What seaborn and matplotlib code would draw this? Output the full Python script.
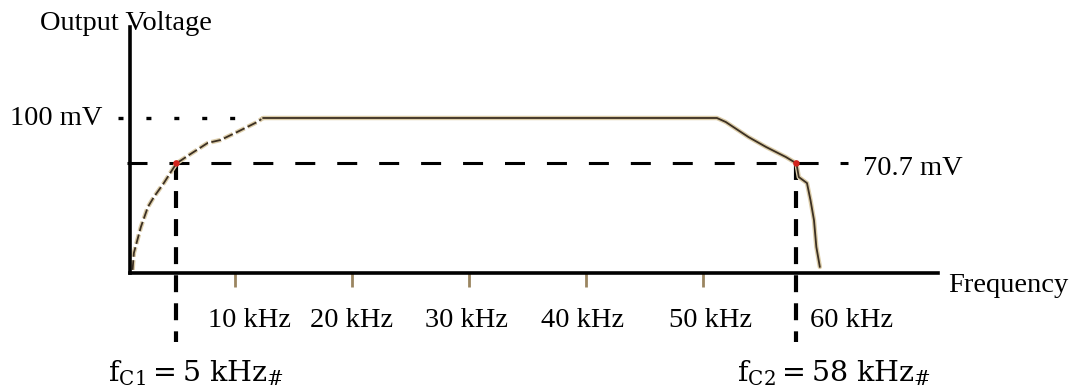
import matplotlib
matplotlib.use("Agg")
import matplotlib.pyplot as plt
import numpy as np
import pandas as pd
import seaborn as sns

# Band-pass response of the amplifier (kHz, mV)
rise_khz = [1.25, 1.36, 1.96, 2.56, 3.07, 3.92, 4.51, 5.0, 6.05, 7.67, 8.77, 10.2, 11.9, 12.4]
rise_mv = [2.0, 12.9, 29.7, 42.6, 49.0, 58.0, 65.0, 70.7, 76.0, 83.9, 85.8, 91.0, 97.4, 100.0]
fall_khz = [12.4, 51.2, 51.96, 53.9, 55.4, 57.1, 58.0, 58.2, 58.9, 59.2, 59.5, 59.7, 60.0]
fall_mv = [100.0, 100.0, 97.4, 87.7, 81.3, 74.8, 70.7, 61.9, 58.0, 47.0, 34.0, 16.8, 3.9]

peak_mv = 100.0
cutoff_mv = 70.7
cutoff_khz = [5, 58]
tick_khz = [10, 20, 30, 40, 50]
tick_labels = ["10 kHz", "20 kHz", "30 kHz", "40 kHz", "50 kHz", "60 kHz"]
label_khz = [10, 20, 30, 40, 50, 60]
label_nudge_px = [15, 0, -2, -3, 8, 32]

sns.set_theme(style="white")
plt.rcParams["font.family"] = ["Liberation Serif", "DejaVu Serif"]
plt.rcParams["mathtext.fontset"] = "dejavuserif"
plt.rcParams["lines.scale_dashes"] = False
plt.rcParams["text.color"] = "black"

W, H = 1086, 390
fig = plt.figure(figsize=(W / 100, H / 100), dpi=100)
ax = fig.add_axes([130 / W, (H - 273) / H, (938 - 130) / W, (273 - 27) / H])
ax.set_xlim(1.03, 70.1)
ax.set_ylim(0, 158.7)

rise = pd.DataFrame({"f": rise_khz, "v": rise_mv})
fall = pd.DataFrame({"f": fall_khz, "v": fall_mv})

# reference levels
ax.plot([0, 11.0], [peak_mv, peak_mv], color="black", lw=2.4,
        linestyle=(0, (3.6, 16.5)), clip_on=False, dash_capstyle="butt")
ax.plot([0.8, 62.4], [cutoff_mv, cutoff_mv], color="black", lw=2.2,
        linestyle=(0, (14.4, 15.8)), clip_on=False)
for fc in cutoff_khz:
    ax.plot([fc, fc], [cutoff_mv, -44.5], color="black", lw=3.0,
            linestyle=(0, (12.2, 8.0)), clip_on=False)

# response curve: soft tan halo with a dark core
halo = "#dccdaa"
core = "#3b2f22"
sns.lineplot(data=rise, x="f", y="v", ax=ax, color=halo, lw=3.2,
             estimator=None, sort=False, linestyle=(0, (7, 2.5)))
sns.lineplot(data=rise, x="f", y="v", ax=ax, color=core, lw=1.3,
             estimator=None, sort=False, linestyle=(0, (7, 2.5)))
sns.lineplot(data=fall, x="f", y="v", ax=ax, color=halo, lw=3.2,
             estimator=None, sort=False)
sns.lineplot(data=fall, x="f", y="v", ax=ax, color=core, lw=1.3,
             estimator=None, sort=False)

sns.scatterplot(x=cutoff_khz, y=[cutoff_mv] * len(cutoff_khz), ax=ax,
                color="#d2231c", s=22, edgecolor="none", zorder=5)

# axes
for side in ("top", "right"):
    ax.spines[side].set_visible(False)
for side in ("left", "bottom"):
    ax.spines[side].set_linewidth(2.6)
    ax.spines[side].set_color("black")
ax.set_yticks([])
ax.set_xticks(tick_khz)
ax.set_xticklabels([])
ax.tick_params(axis="x", direction="out", length=10, width=2.0,
               color="#9a8560", bottom=True)
ax.set_xlabel("")
ax.set_ylabel("")

fs = 20.5
for lab, k, dx in zip(tick_labels, label_khz, label_nudge_px):
    ax.annotate(lab, xy=(k, 0), xycoords="data",
                xytext=(dx, -(327 - 273)), textcoords="offset pixels",
                ha="center", va="baseline", fontsize=fs, color="black",
                annotation_clip=False)

def fig_text(s, x, y, **kw):
    fig.text(x / W, (H - y) / H, s, color="black", **kw)

fig_text("Output Voltage", 40, 30, fontsize=fs, ha="left", va="baseline")
fig_text("100 mV", 10, 125, fontsize=fs, ha="left", va="baseline")
fig_text("70.7 mV", 863, 175, fontsize=fs, ha="left", va="baseline")
fig_text("Frequency", 948, 292, fontsize=fs, ha="left", va="baseline")
fig_text(r"$\mathrm{f}_{\mathrm{C1}}=5\ \mathrm{kHz}_{\#}$", 108, 382,
         fontsize=20.5, ha="left", va="baseline")
fig_text(r"$\mathrm{f}_{\mathrm{C2}}=58\ \mathrm{kHz}_{\#}$", 737, 382,
         fontsize=20.5, ha="left", va="baseline")

fig.savefig("out.png", dpi=100)
